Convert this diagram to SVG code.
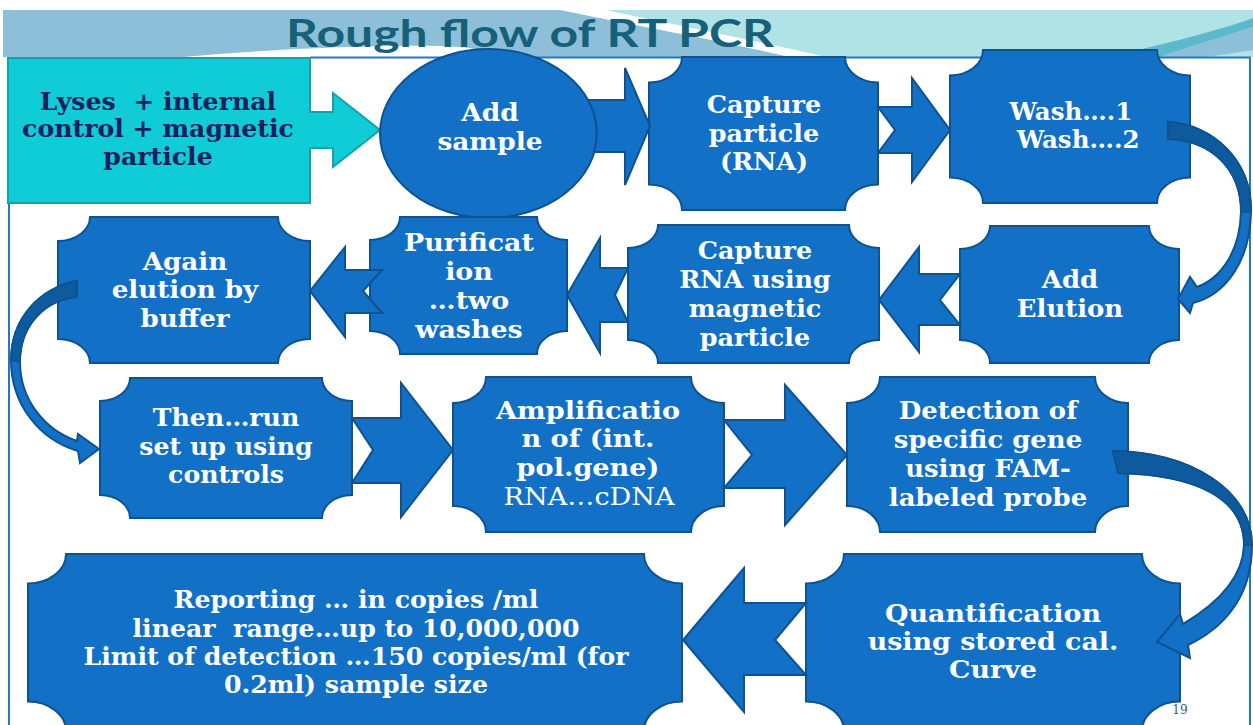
<svg xmlns="http://www.w3.org/2000/svg" width="1253" height="725" viewBox="0 0 1253 725">
<style>
.box{fill:#1270c6;stroke:#0e528f;stroke-width:2}
.arr{fill:#1270c6;stroke:#0e528f;stroke-width:2;stroke-linejoin:miter}
.dark{fill:#0d5a9e;stroke:#0e528f;stroke-width:1.5}
.t{font-family:"DejaVu Serif","Liberation Serif",serif;font-weight:bold;font-size:24px;fill:#ffffff;text-anchor:middle}
.n{font-weight:normal}
.c{fill:#171f5e}
</style>
<rect width="1253" height="725" fill="#ffffff"/>
<g id="banner">
<rect x="3" y="10" width="1250" height="47" fill="#b0e3e6"/>
<path d="M3,10 H560 C650,28 740,45 790,57 H3 Z" fill="#8dc0d8"/>
<path d="M560,10 H606 C690,28 780,46 826,57 H790 C740,45 650,28 560,10 Z" fill="#ffffff"/>
<path d="M184,57 C260,50 360,45 440,46 C470,47 490,50 500,57 Z" fill="#ffffff"/>
<path d="M1130,52 C1180,40 1220,30 1253,18 V27 C1220,38 1185,48 1160,57 H1145 Z" fill="#5cb9cc"/>
<path d="M1160,57 C1185,48 1220,38 1253,27 V50 C1235,53 1220,55 1205,57 Z" fill="#8dc0d8"/>
<text x="530" y="47" font-family="Lato,'Open Sans',sans-serif" font-weight="bold" font-size="38" fill="#16607a" text-anchor="middle" textLength="488" lengthAdjust="spacingAndGlyphs">Rough flow of RT PCR</text>
</g>
<g id="frame" fill="none" stroke="#2477c6" stroke-width="2">
<path d="M9,203 V725 M310,57.5 H1250 V725"/>
</g>
<g id="n-lyses">
<path d="M8,58 H310 V112 H333 V93 L380,130 L333,167 V148 H310 V203 H8 Z" fill="#10ccd6" stroke="#12a3a8" stroke-width="2"/>
<text class="t c" xml:space="preserve" transform="matrix(1.05,0,0,1,-7.9,0)"><tspan x="158" y="110">Lyses  + internal</tspan><tspan x="158" y="137">control + magnetic</tspan><tspan x="158" y="165">particle</tspan></text>
</g>
<g id="n-add-sample">
<ellipse cx="488.5" cy="133.5" rx="108.5" ry="84.5" class="box"/>
<text class="t" transform="matrix(1.1,0,0,1,-49,0)"><tspan x="490" y="121">Add</tspan><tspan x="490" y="150">sample</tspan></text>
</g>
<g id="n-capture-particle">
<path class="box" d="M682,57 H845 A33,25.5 0 0 0 878,82.5 V184.5 A33,25.5 0 0 0 845,210 H682 A33,25.5 0 0 0 649,184.5 V82.5 A33,25.5 0 0 0 682,57 Z"/>
<text class="t" transform="matrix(1.06,0,0,1,-45.84,0)"><tspan x="764" y="113">Capture</tspan><tspan x="764" y="142">particle</tspan><tspan x="764" y="170">(RNA)</tspan></text>
</g>
<g id="n-wash">
<path class="box" d="M983,50 H1157 A33,25.5 0 0 0 1190,75.5 V177.5 A33,25.5 0 0 0 1157,203 H983 A33,25.5 0 0 0 950,177.5 V75.5 A33,25.5 0 0 0 983,50 Z"/>
<text class="t" transform="matrix(1.02,0,0,1,-21.5,0)"><tspan x="1071" y="120">Wash….1</tspan><tspan x="1078" y="148">Wash….2</tspan></text>
</g>
<g id="n-add-elution">
<path class="box" d="M990,226 H1149 A30,23 0 0 0 1179,249 V340 A30,23 0 0 0 1149,363 H990 A30,23 0 0 0 960,340 V249 A30,23 0 0 0 990,226 Z"/>
<text class="t" transform="matrix(1.08,0,0,1,-85.6,0)"><tspan x="1070" y="288">Add</tspan><tspan x="1070" y="317">Elution</tspan></text>
</g>
<g id="n-capture-rna">
<path class="box" d="M658,225 H849 A30,23 0 0 0 879,248 V340 A30,23 0 0 0 849,363 H658 A30,23 0 0 0 628,340 V248 A30,23 0 0 0 658,225 Z"/>
<text class="t" transform="matrix(1.06,0,0,1,-45.3,0)"><tspan x="755" y="259">Capture</tspan><tspan x="755" y="288">RNA using</tspan><tspan x="755" y="317">magnetic</tspan><tspan x="755" y="346">particle</tspan></text>
</g>
<g id="n-purification">
<path class="box" d="M400,217 H537 A30,23 0 0 0 567,240 V331 A30,23 0 0 0 537,354 H400 A30,23 0 0 0 370,331 V240 A30,23 0 0 0 400,217 Z"/>
<text class="t" transform="matrix(1.12,0,0,1,-56.28,0)"><tspan x="469" y="251">Purificat</tspan><tspan x="469" y="280">ion</tspan><tspan x="469" y="309">…two</tspan><tspan x="469" y="338">washes</tspan></text>
</g>
<g id="n-again">
<path class="box" d="M90,217 H278 A32,24 0 0 0 310,241 V339 A32,24 0 0 0 278,363 H90 A32,24 0 0 0 58,339 V241 A32,24 0 0 0 90,217 Z"/>
<text class="t" transform="matrix(1.09,0,0,1,-16.65,0)"><tspan x="185" y="270">Again</tspan><tspan x="185" y="298">elution by</tspan><tspan x="185" y="327">buffer</tspan></text>
</g>
<g id="n-then">
<path class="box" d="M130,378 H322 A30,23 0 0 0 352,401 V495 A30,23 0 0 0 322,518 H130 A30,23 0 0 0 100,495 V401 A30,23 0 0 0 130,378 Z"/>
<text class="t" transform="matrix(1.05,0,0,1,-11.3,0)"><tspan x="226" y="426">Then…run</tspan><tspan x="226" y="455">set up using</tspan><tspan x="226" y="483">controls</tspan></text>
</g>
<g id="n-amplification">
<path class="box" d="M486,377 H691 A33,26 0 0 0 724,403 V506 A33,26 0 0 0 691,532 H486 A33,26 0 0 0 453,506 V403 A33,26 0 0 0 486,377 Z"/>
<text class="t" transform="matrix(1.13,0,0,1,-76.44,0)"><tspan x="588" y="419">Amplificatio</tspan><tspan x="588" y="447">n of (int.</tspan><tspan x="588" y="476">pol.gene)</tspan><tspan x="589" y="505" class="n">RNA…cDNA</tspan></text>
</g>
<g id="n-detection">
<path class="box" d="M880,377 H1095 A33,26 0 0 0 1128,403 V506 A33,26 0 0 0 1095,532 H880 A33,26 0 0 0 847,506 V403 A33,26 0 0 0 880,377 Z"/>
<text class="t" transform="matrix(1.08,0,0,1,-79.04,0)"><tspan x="988" y="419">Detection of</tspan><tspan x="988" y="448">specific gene</tspan><tspan x="988" y="477">using FAM-</tspan><tspan x="988" y="506">labeled probe</tspan></text>
</g>
<g id="n-reporting">
<path class="box" d="M66,554 H644 A38,29.5 0 0 0 682,583.5 V701.5 A38,29.5 0 0 0 644,731 H66 A38,29.5 0 0 0 28,701.5 V583.5 A38,29.5 0 0 0 66,554 Z"/>
<text class="t" xml:space="preserve" transform="matrix(1.05,0,0,1,-17.8,0)"><tspan x="356" y="608">Reporting … in copies /ml</tspan><tspan x="356" y="637">linear  range…up to 10,000,000</tspan><tspan x="356" y="665">Limit of detection …150 copies/ml (for</tspan><tspan x="356" y="693">0.2ml) sample size</tspan></text>
</g>
<g id="n-quantification">
<path class="box" d="M844,554 H1142 A38,29.5 0 0 0 1180,583.5 V701.5 A38,29.5 0 0 0 1142,731 H844 A38,29.5 0 0 0 806,701.5 V583.5 A38,29.5 0 0 0 844,554 Z"/>
<text class="t" transform="matrix(1.12,0,0,1,-119.16,0)"><tspan x="993" y="622">Quantification</tspan><tspan x="993" y="650">using stored cal.</tspan><tspan x="993" y="678">Curve</tspan></text>
</g>
<g id="connectors">
<path class="arr" d="M588,100 H625 V68 L650,126 L625,185 V152 H594 A108.5,84.5 0 0 0 588,100 Z"/>
<path class="arr" d="M878,107 H912 V78 L950,130 L912,182 V153 H878 L895,130 Z"/>
<path class="arr" d="M960,274 H919 V247 L879,300 L919,352 V325 H960 L940,300 Z"/>
<path class="arr" d="M628,268 H600 V238 L567,295 L600,353 V322 H628 L615,295 Z"/>
<path class="arr" d="M382,270 H345 V247 L310,291 L345,337 V313 H382 L363,291 Z"/>
<path class="arr" d="M352,418 H401 V383 L453,450 L401,517 V483 H352 L373,450 Z"/>
<path class="arr" d="M724,420 H785 V385 L847,455 L785,525 V488 H724 L752,455 Z"/>
<path class="arr" d="M806,603 H744 V568 L683,640 L744,712 V675 H806 L775,640 Z"/>
<path class="arr" d="M1168,122 C1212,124 1252,160 1251,212 C1250,262 1225,295 1193,303 L1190,313 L1178,299 L1190,277 L1197,287 C1222,278 1240,250 1241,212 C1241,168 1210,140 1168,139 Z"/>
<path class="dark" d="M1168,122 C1212,124 1252,160 1251,212 L1241,212 C1241,168 1210,140 1168,139 Z"/>
<path class="arr" d="M77,281 C40,288 11,318 11,360 C11,405 40,440 78,451 L80,463 L99,449 L78,434 L77,441 C45,430 20,400 20,362 C20,325 45,300 77,297 Z"/>
<path class="dark" d="M77,281 C40,288 11,318 11,360 L20,362 C20,325 45,300 77,297 Z"/>
<path class="arr" d="M1113,451 C1190,452 1252,490 1252,545 C1252,600 1220,630 1188,645 L1190,658 L1157,642 L1180,614 L1183,624 C1215,605 1243,580 1244,545 C1244,500 1200,475 1118,473 Z"/>
<path class="dark" d="M1113,451 C1190,452 1252,490 1252,545 L1244,545 C1244,500 1200,475 1118,473 Z"/>
</g>
<text x="1180" y="714" font-family="'DejaVu Serif',serif" font-size="12" fill="#1a6a80" text-anchor="middle">19</text>
</svg>
